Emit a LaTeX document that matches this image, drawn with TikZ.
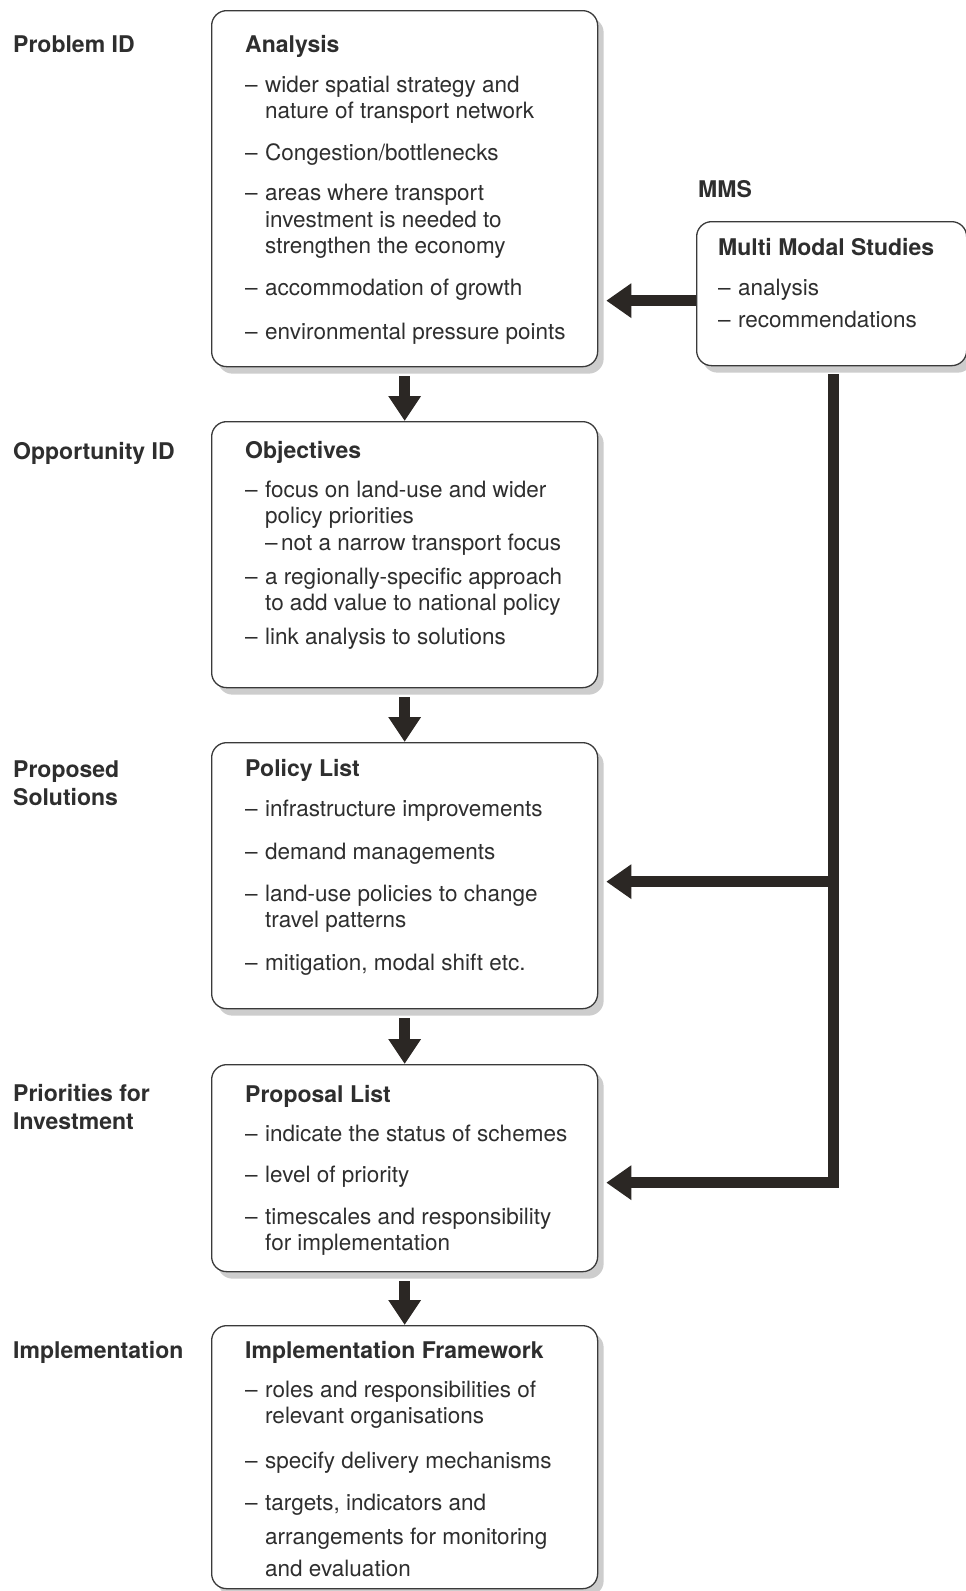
\documentclass[tikz,border=0pt]{standalone}
\usepackage{fontspec}
\setmainfont{TeX Gyre Heros}
\usetikzlibrary{arrows.meta,shadows}

\definecolor{ink}{HTML}{2B2724}
\definecolor{frame}{HTML}{3A3A3A}
\definecolor{shade}{HTML}{CDCDCD}
\definecolor{txt}{HTML}{2E2E2E}

% list helpers: dash with hanging indent, continuation line
\newcommand\dashitem{\makebox[20pt][l]{–}}
\newcommand\dashcont{\hspace*{20pt}}
\newcommand\hd[1]{{\bfseries\fontsize{23}{26.5}\selectfont #1}}

\tikzset{
  panel/.style={draw=frame, line width=1.3pt, rounded corners=15pt, fill=white,
    anchor=north west, inner sep=0pt,
    drop shadow={shadow xshift=6pt, shadow yshift=-7pt, fill=shade, opacity=1}},
  body/.style={anchor=base west, inner sep=0pt, text=txt,
    font=\fontsize{22.5}{26.5}\selectfont},
  stage/.style={anchor=base west, inner sep=0pt, text=txt,
    font=\bfseries\fontsize{23}{28}\selectfont},
  flow/.style={draw=ink, line width=10.5pt,
    -{Triangle[width=31pt,length=25pt]}},
  feed/.style={draw=ink, line width=11pt, line join=miter,
    -{Triangle[width=33pt,length=25pt]}},
}

\begin{document}
\begin{tikzpicture}[x=1pt,y=-1pt]
\fill[white] (0,0) rectangle (966,1591);
\useasboundingbox (0,0) rectangle (966,1591);

% stage labels on the left
\node[stage] (lab-problem) at (13,52) {Problem ID};
\node[stage] (lab-opportunity) at (13,459) {Opportunity ID};
\node[stage] (lab-proposed) at (13,777) {\parbox[t]{180pt}{Proposed\\Solutions}};
\node[stage] (lab-priorities) at (13,1101) {\parbox[t]{180pt}{Priorities for\\Investment}};
\node[stage] (lab-implementation) at (13,1358) {Implementation};
\node[stage] (lab-mms) at (698,197) {MMS};

% boxes
\node[panel, minimum width=386pt, minimum height=356pt] (analysis) at (211,10) {};
\node[panel, minimum width=386pt, minimum height=266pt] (objectives) at (211,421) {};
\node[panel, minimum width=386pt, minimum height=266pt] (policy) at (211,742) {};
\node[panel, minimum width=386pt, minimum height=207pt] (proposal) at (211,1064) {};
\node[panel, minimum width=386pt, minimum height=263pt] (impl) at (211,1325) {};
\node[panel, minimum width=270pt, minimum height=144pt] (mms) at (696,221) {};

% box contents
\node[body] (analysis-txt) at (245,52) {\parbox[t]{345pt}{\raggedright
\hd{Analysis}\\[13.5pt]
\dashitem wider spatial strategy and\\
\dashcont nature of transport network\\[15pt]
\dashitem Congestion/bottlenecks\\[14pt]
\dashitem areas where transport\\
\dashcont investment is needed to\\
\dashcont strengthen the economy\\[15.5pt]
\dashitem accommodation of growth\\[17pt]
\dashitem environmental pressure points}};

\node[body] (objectives-txt) at (245,458) {\parbox[t]{345pt}{\raggedright
\hd{Objectives}\\[12.5pt]
\dashitem focus on land-use and wider\\
\dashcont policy priorities\\
\dashcont\makebox[16pt][l]{–}not a narrow transport focus\\[7.5pt]
\dashitem a regionally-specific approach\\
\dashcont to add value to national policy\\[7.5pt]
\dashitem link analysis to solutions}};

\node[body] (policy-txt) at (245,776) {\parbox[t]{345pt}{\raggedright
\hd{Policy List}\\[13.5pt]
\dashitem infrastructure improvements\\[16.5pt]
\dashitem demand managements\\[15.5pt]
\dashitem land-use policies to change\\
\dashcont travel patterns\\[16.5pt]
\dashitem mitigation, modal shift etc.}};

\node[body] (proposal-txt) at (245,1102) {\parbox[t]{345pt}{\raggedright
\hd{Proposal List}\\[12.5pt]
\dashitem indicate the status of schemes\\[14.5pt]
\dashitem level of priority\\[15.5pt]
\dashitem timescales and responsibility\\
\dashcont for implementation}};

\node[body] (impl-txt) at (245,1358) {\parbox[t]{345pt}{\raggedright
\hd{Implementation Framework}\\[12.5pt]
\dashitem roles and responsibilities of\\
\dashcont relevant organisations\\[18.5pt]
\dashitem specify delivery mechanisms\\[15.5pt]
\dashitem targets, indicators and\\[7.5pt]
\dashcont arrangements for monitoring\\[5.5pt]
\dashcont and evaluation}};

\node[body] (mms-txt) at (718,255) {\parbox[t]{240pt}{\raggedright
\hd{Multi Modal Studies}\\[13.5pt]
\dashitem analysis\\[5.5pt]
\dashitem recommendations}};

% main downward flow
\draw[flow] ([yshift=-9pt]analysis.south) -- (objectives.north);
\draw[flow] ([yshift=-9pt]objectives.south) -- (policy.north);
\draw[flow] ([yshift=-9pt]policy.south) -- (proposal.north);
\draw[flow] ([yshift=-9pt]proposal.south) -- (impl.north);

% feedback from the multi modal studies
\coordinate (m1) at ([yshift=-7pt]mms.west);
\coordinate (t1) at ([xshift=8pt]analysis.east);
\draw[feed] (m1) -- (m1 -| t1);

\coordinate (bus0) at ([xshift=1.5pt,yshift=-8pt]mms.south);
\coordinate (j1) at ([xshift=8pt,yshift=-6pt]policy.east);
\coordinate (j2) at ([xshift=8pt,yshift=-14.5pt]proposal.east);
\draw[feed] (bus0) -- (bus0 |- j2) -- (j2);
\draw[feed] (bus0 |- j1) -- (j1);
\end{tikzpicture}
\end{document}
